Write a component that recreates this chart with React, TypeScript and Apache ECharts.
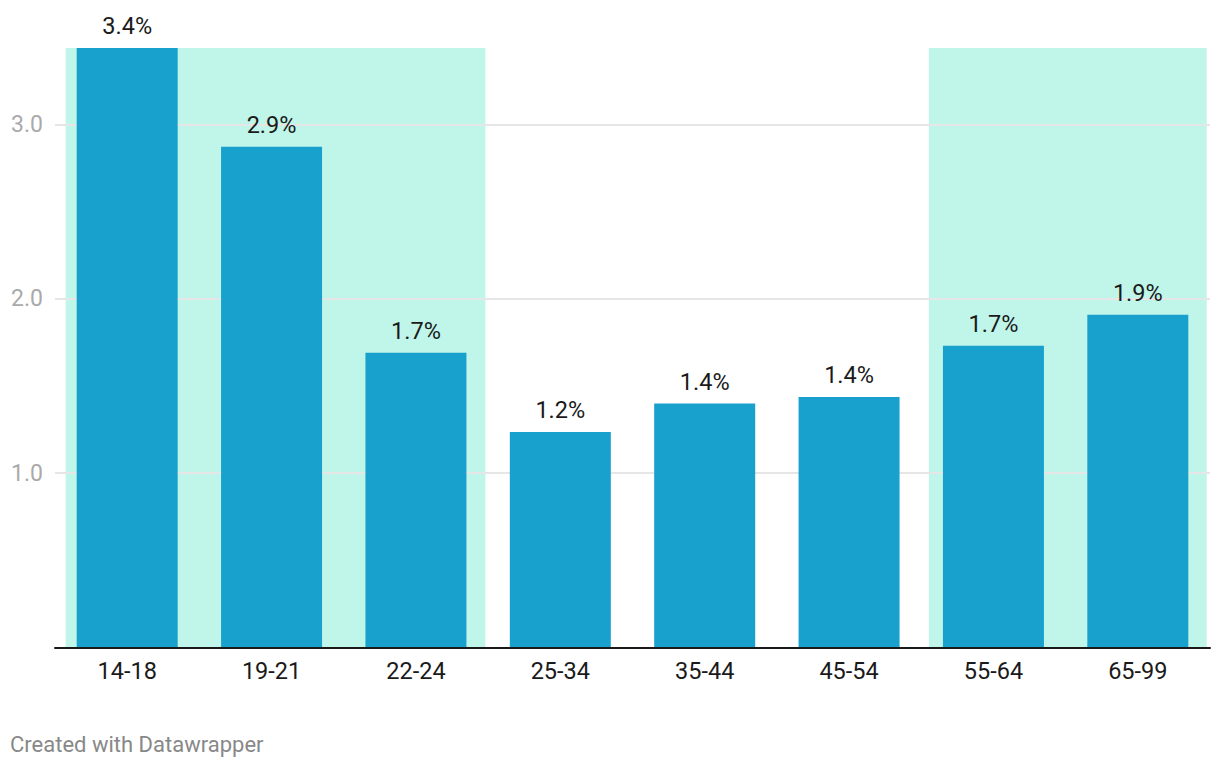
import React, { useEffect, useRef } from "react";
import * as echarts from "echarts";

const categories = ["14-18", "19-21", "22-24", "25-34", "35-44", "45-54", "55-64", "65-99"];
const values = [3.44, 2.873, 1.691, 1.237, 1.4, 1.438, 1.731, 1.909];
const yTicks = [1, 2, 3];
const yMax = 3.44;
// highlighted ranges in category-index units
const shadeRanges = [
  [-0.426, 2.481],
  [5.553, 7.477],
];

const FONT = "Roboto, 'Noto Sans', sans-serif";

export default function App() {
  const ref = useRef<HTMLDivElement>(null);
  useEffect(() => {
    if (!ref.current) return;
    const chart = echarts.init(ref.current, null, { renderer: "svg" });
    chart.setOption({
      animation: false,
      backgroundColor: "#ffffff",
      grid: { left: 55, right: 10, top: 48, bottom: 120.5, containLabel: false },
      xAxis: [
        {
          type: "category",
          data: categories,
          axisLine: { show: true, lineStyle: { color: "#1a1a1a", width: 2 } },
          axisTick: { show: false },
          axisLabel: { color: "#1a1a1a", fontSize: 23.5, fontFamily: FONT, margin: 11 },
          z: 3,
        },
        { type: "value", min: -0.5, max: 7.5, show: false },
      ],
      yAxis: {
        type: "value",
        min: 0,
        max: yMax,
        interval: 1,
        z: 1,
        axisLine: { show: false },
        axisTick: { show: false },
        splitLine: { show: true, showMinLine: false, showMaxLine: false, lineStyle: { color: "#e6e6e6", width: 2 } },
        axisLabel: {
          color: "#aaaaaa",
          fontSize: 23,
          fontFamily: FONT,
          margin: 12,
          formatter: (v: number) => (yTicks.includes(v) ? v.toFixed(1) : ""),
        },
      },
      series: [
        {
          type: "custom",
          xAxisIndex: 1,
          z: 0.5,
          silent: true,
          data: shadeRanges,
          renderItem: (params: any, api: any) => {
            const p0 = api.coord([api.value(0), yMax]);
            const p1 = api.coord([api.value(1), 0]);
            return {
              type: "rect",
              shape: { x: p0[0], y: p0[1], width: p1[0] - p0[0], height: p1[1] - p0[1] },
              style: { fill: "#c0f5e9" },
            };
          },
        },
        {
          type: "bar",
          data: values,
          barWidth: 101,
          z: 2,
          itemStyle: { color: "#18a1cd" },
          label: {
            show: true,
            position: "top",
            distance: 10,
            color: "#1a1a1a",
            fontSize: 23.5,
            fontFamily: FONT,
            formatter: (p: any) => p.value.toFixed(1) + "%",
          },
        },
      ],
      graphic: [
        {
          type: "text",
          left: 10,
          top: 733,
          style: { text: "Created with Datawrapper", fill: "#888888", fontSize: 22, fontFamily: FONT },
        },
      ],
    });
    return () => chart.dispose();
  }, []);
  return <div ref={ref} style={{ position: "fixed", left: 0, top: 0, width: 1220, height: 768 }} />;
}
